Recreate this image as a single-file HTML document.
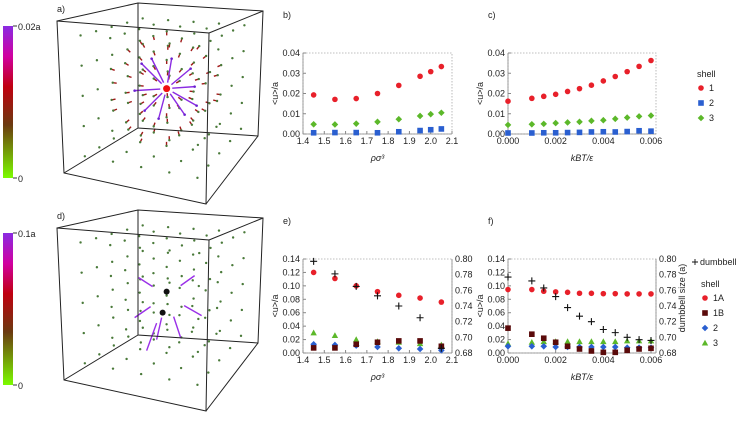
<!DOCTYPE html>
<html><head><meta charset="utf-8"><style>
body{margin:0;background:#fff;width:736px;height:417px;overflow:hidden}
svg text{font-family:"Liberation Sans",sans-serif;font-size:9px;fill:#222}
</style></head><body>
<svg id="fig" width="736" height="417" viewBox="0 0 736 417" xmlns="http://www.w3.org/2000/svg">
<defs>
<linearGradient id="cb" x1="0" y1="1" x2="0" y2="0">
<stop offset="0" stop-color="#7cfc00"/><stop offset="0.35" stop-color="#6b3a10"/><stop offset="0.6" stop-color="#c00010"/><stop offset="0.8" stop-color="#d000a0"/><stop offset="1" stop-color="#8a2be2"/></linearGradient>
</defs>
<g id="cubes"></g>
<g id="plots"></g>
</svg>
<script>
// ---------- data ----------
const bX=[1.45,1.55,1.65,1.75,1.85,1.95,2.0,2.05];
const bShell1=[0.0193,0.0171,0.0175,0.0200,0.0240,0.0285,0.0308,0.0333];
const bShell2=[0.0006,0.0007,0.0007,0.0006,0.0011,0.0017,0.0021,0.0025];
const bShell3=[0.0048,0.0047,0.0051,0.0060,0.0073,0.0089,0.0098,0.0105];
const cX=[0,0.001,0.0015,0.002,0.0025,0.003,0.0035,0.004,0.0045,0.005,0.0055,0.006];
const cShell1=[0.0162,0.0176,0.0186,0.0196,0.021,0.0224,0.0241,0.0262,0.0284,0.0308,0.0334,0.0363];
const cShell2=[0.0005,0.0005,0.0006,0.0006,0.0007,0.0008,0.001,0.0011,0.001,0.0012,0.0016,0.0014];
const cShell3=[0.0045,0.0048,0.005,0.0054,0.0057,0.006,0.0065,0.0068,0.0075,0.0081,0.0087,0.0091];
const eX=[1.45,1.55,1.65,1.75,1.85,1.95,2.05];
const e1A=[0.120,0.111,0.100,0.0914,0.0859,0.0818,0.0758];
const e1B=[0.0076,0.0076,0.013,0.016,0.018,0.018,0.010];
const e2=[0.013,0.012,0.011,0.009,0.007,0.006,0.004];
const e3=[0.030,0.026,0.020,0.017,0.016,0.014,0.012];
const eDumb=[0.797,0.781,0.765,0.753,0.740,0.725,0.686];
const fX=[0,0.001,0.0015,0.002,0.0025,0.003,0.0035,0.004,0.0045,0.005,0.0055,0.006];
const f1A=[0.0945,0.0945,0.092,0.091,0.0904,0.089,0.0889,0.0884,0.0884,0.088,0.088,0.088];
const f1B=[0.037,0.028,0.022,0.016,0.010,0.006,0.003,0.001,0.001,0.004,0.006,0.007];
const f2=[0.010,0.010,0.010,0.009,0.009,0.009,0.009,0.009,0.009,0.008,0.008,0.008];
const f3=[0.014,0.016,0.017,0.017,0.017,0.017,0.017,0.017,0.017,0.018,0.018,0.018];
const fDumb=[0.777,0.772,0.763,0.752,0.738,0.727,0.720,0.710,0.706,0.700,0.697,0.696];
const rhoTicks=["1.4","1.5","1.6","1.7","1.8","1.9","2.0","2.1"];
const tTicks=["0.000","0.002","0.004","0.006"];
const NS="http://www.w3.org/2000/svg";
function el(tag,attrs,parent,txt){const e=document.createElementNS(NS,tag);for(const k in attrs)e.setAttribute(k,attrs[k]);if(txt!==undefined)e.textContent=txt;parent.appendChild(e);return e;}
const plots=document.getElementById('plots');
const RED="#e8202a",BLUE="#2a5fd0",GREEN="#5cb82a",DARK="#5a0a0a";
function marker(g,type,x,y,c){
 let m;
 if(type==='c')m=el('circle',{cx:x,cy:y,r:2.8,fill:c},g);
 else if(type==='s')m=el('rect',{x:x-2.8,y:y-2.8,width:5.6,height:5.6,fill:c},g);
 else if(type==='d')m=el('polygon',{points:`${x},${y-3.3} ${x+3.3},${y} ${x},${y+3.3} ${x-3.3},${y}`,fill:c},g);
 else if(type==='t')m=el('polygon',{points:`${x},${y-3.3} ${x+3.2},${y+2.5} ${x-3.2},${y+2.5}`,fill:c},g);
 else if(type==='p')m=el('path',{d:`M${x-3.5},${y}H${x+3.5}M${x},${y-3.5}V${y+3.5}`,stroke:'#111','stroke-width':1.1},g);
 return m;
}
function panel(o){
 const g=el('g',{},plots);
 
 
 const sx=v=>o.px0+(v-o.x0)/(o.x1-o.x0)*(o.px1-o.px0);
 const sy=v=>o.py0-(v-o.y0)/(o.y1-o.y0)*(o.py0-o.py1);
 const fr=el('rect',{x:o.px0,y:o.py1,width:o.right-o.px0,height:o.py0-o.py1,fill:'none',stroke:'#aaa','stroke-width':0.8,'stroke-dasharray':'1.5,1.5'},g);
 
 el('line',{x1:o.px0,y1:o.py1,x2:o.px0,y2:o.py0,stroke:'#888','stroke-width':0.8},g);
 el('line',{x1:o.px0,y1:o.py0,x2:o.right,y2:o.py0,stroke:'#888','stroke-width':0.8},g);
 o.yTicks.forEach(t=>{const y=sy(+t);el('line',{x1:o.px0,y1:y,x2:o.px0+3,y2:y,stroke:'#888'},g);
  const tx=el('text',{x:o.px0-3,y:y+3,'text-anchor':'end'},g,t);});
 o.xTicks.forEach(t=>{const x=sx(+t);el('line',{x1:x,y1:o.py0,x2:x,y2:o.py0-3,stroke:'#888'},g);
  const tx=el('text',{x:x,y:o.py0+10,'text-anchor':'middle'},g,t);});
 if(o.rTicks){el('line',{x1:o.right,y1:o.py1,x2:o.right,y2:o.py0,stroke:'#888','stroke-width':0.8},g);
  o.rTicks.forEach(t=>{const y=o.py0-(+t-o.r0)/(o.r1-o.r0)*(o.py0-o.py1);
   const tx=el('text',{x:o.right+3,y:y+3},g,t);});}
 const xl=el('text',{x:(o.px0+o.right)/2,y:o.py0+27,'text-anchor':'middle','font-size':'10px','font-style':'italic'},g,o.xlabel);
 
 const yl=el('text',{x:0,y:0,transform:`translate(${o.px0-25},${(o.py0+o.py1)/2}) rotate(-90)`,'text-anchor':'middle'},g,'<u>/a');
 
 const pl=el('text',{x:o.px0-20,y:o.py1-35,'font-family':'Liberation Serif','font-size':'11px'},g,o.label);
 
 o.series.forEach(s=>{s.ys.forEach((v,i)=>{
  const y=s.right?o.py0-(v-o.r0)/(o.r1-o.r0)*(o.py0-o.py1):sy(v);
  const m=marker(g,s.type,sx(o.xs[i]),y,s.color);
  
  
 });});
 return g;
}
panel({name:'panel-b',label:'b)',xs:bX,x0:1.4,x1:2.1,px0:303,px1:452,right:452,y0:0,y1:0.04,py0:134,py1:53,
 yTicks:["0.00","0.01","0.02","0.03","0.04"],xTicks:rhoTicks,xlabel:'ρσ³',
 series:[{name:'shell1-point',type:'c',color:RED,ys:bShell1},{name:'shell2-point',type:'s',color:BLUE,ys:bShell2},{name:'shell3-point',type:'d',color:GREEN,ys:bShell3}]});
panel({name:'panel-c',label:'c)',xs:cX,x0:0,x1:0.006,px0:508,px1:651,right:656,y0:0,y1:0.04,py0:134,py1:53,
 yTicks:["0.00","0.01","0.02","0.03","0.04"],xTicks:tTicks,xlabel:'kBT/ε',
 series:[{name:'shell1-point',type:'c',color:RED,ys:cShell1},{name:'shell2-point',type:'s',color:BLUE,ys:cShell2},{name:'shell3-point',type:'d',color:GREEN,ys:cShell3}]});
panel({name:'panel-e',label:'e)',xs:eX,x0:1.4,x1:2.1,px0:303,px1:452,right:452,y0:0,y1:0.14,py0:353,py1:259,
 r0:0.68,r1:0.80,rTicks:["0.68","0.70","0.72","0.74","0.76","0.78","0.80"],
 yTicks:["0.00","0.02","0.04","0.06","0.08","0.10","0.12","0.14"],xTicks:rhoTicks,xlabel:'ρσ³',
 series:[{name:'shell3-point',type:'t',color:GREEN,ys:e3},{name:'shell2-point',type:'d',color:BLUE,ys:e2},{name:'shell1B-point',type:'s',color:DARK,ys:e1B},{name:'shell1A-point',type:'c',color:RED,ys:e1A},{name:'dumbbell-point',type:'p',right:true,ys:eDumb}]});
panel({name:'panel-f',label:'f)',xs:fX,x0:0,x1:0.006,px0:508,px1:651,right:656,y0:0,y1:0.14,py0:353,py1:259,
 r0:0.68,r1:0.80,rTicks:["0.68","0.70","0.72","0.74","0.76","0.78","0.80"],
 yTicks:["0.00","0.02","0.04","0.06","0.08","0.10","0.12","0.14"],xTicks:tTicks,xlabel:'kBT/ε',
 series:[{name:'shell3-point',type:'t',color:GREEN,ys:f3},{name:'shell2-point',type:'d',color:BLUE,ys:f2},{name:'shell1B-point',type:'s',color:DARK,ys:f1B},{name:'shell1A-point',type:'c',color:RED,ys:f1A},{name:'dumbbell-point',type:'p',right:true,ys:fDumb}]});
const rt=el('text',{x:0,y:0,transform:'translate(685,298) rotate(-90)','text-anchor':'middle'},plots,'dumbbell size (a)');


function legend(x,y,items,name){const g=el('g',{},plots);
 
 
 el('text',{x:x,y:y},g,'shell');
 items.forEach((it,i)=>{const yy=y+11+i*15;marker(g,it[0],x+4,yy,it[1]);el('text',{x:x+12,y:yy+3},g,it[2]);});}
legend(697,77,[['c',RED,'1'],['s',BLUE,'2'],['d',GREEN,'3']],'legend-c');
legend(701,287,[['c',RED,'1A'],['s',DARK,'1B'],['d',BLUE,'2'],['t',GREEN,'3']],'legend-f');
const dl=el('g',{},plots);


el('path',{d:'M692,262H698M695,259V265',stroke:'#111','stroke-width':0.9},dl);
el('text',{x:700,y:265,'font-size':'8px'},dl,'dumbbell');

// ---------- cubes ----------
const cubes=document.getElementById('cubes');
function cube(dy,label,cbLabel,mode){
 const g=el('g',{transform:`translate(0,${dy})`},cubes);
 
 
 const C={F:[[57,21],[209,33],[206,204],[64,173]],B:[[138,3],[263,11],[258,136],[138,128]]};
 const cb=el('rect',{x:3,y:26,width:10,height:152,fill:'url(#cb)'},g);
 
 el('line',{x1:13,y1:26,x2:17,y2:26,stroke:'#333'},g);el('line',{x1:13,y1:178,x2:17,y2:178,stroke:'#333'},g);
 el('text',{x:18,y:30,'font-size':'11px'},g,cbLabel);el('text',{x:18,y:182,'font-size':'11px'},g,'0');
 el('text',{x:57,y:12,'font-family':'Liberation Serif','font-size':'11px'},g,label);
 function P(u,v,w){
  const lerp=(a,b,t)=>[a[0]+(b[0]-a[0])*t,a[1]+(b[1]-a[1])*t];
  const f=lerp(lerp(C.F[0],C.F[1],u),lerp(C.F[3],C.F[2],u),v);
  const b=lerp(lerp(C.B[0],C.B[1],u),lerp(C.B[3],C.B[2],u),v);
  return lerp(f,b,w);}
 const cx=P(0.5,0.5,0.5);
 for(let i=0;i<5;i++)for(let j=0;j<5;j++)for(let k=0;k<5;k++){
  const p=P((i+0.5)/5,(j+0.5)/5,(k+0.5)/5);
  const dx=cx[0]-p[0],dyy=cx[1]-p[1];const d=Math.hypot(dx,dyy)||1;
  if(mode==='a'&&d<60&&d>8){el('line',{x1:p[0],y1:p[1],x2:p[0]+dx/d*4,y2:p[1]+dyy/d*4,stroke:'#a01818','stroke-width':1.4},g);}
  el('circle',{cx:p[0],cy:p[1],r:1.2,fill:'#4a7a3a'},g);
 }
 if(mode==='a'){
  const ends=[[-25,-25],[-15,-30],[5,-30],[24,-20],[-32,2],[28,-2],[-22,22],[-8,30],[18,26],[30,17]];
  ends.forEach(e=>{el('line',{x1:cx[0]+e[0],y1:cx[1]+e[1],x2:cx[0]+e[0]*0.2,y2:cx[1]+e[1]*0.2,stroke:'#8a2be2','stroke-width':1.4},g);
   el('circle',{cx:cx[0]+e[0],cy:cx[1]+e[1],r:1.3,fill:'#6a20d0'},g);});
  el('circle',{cx:cx[0],cy:cx[1],r:3.5,fill:'#f01010'},g);
 } else {
  const ends2=[[-28,-18],[28,-20],[-32,22],[35,20],[-10,44],[14,42],[-20,55]];
  ends2.forEach(e=>{el('line',{x1:cx[0]+e[0]*0.5,y1:cx[1]+e[1]*0.5,x2:cx[0]+e[0],y2:cx[1]+e[1],stroke:'#9a30e8','stroke-width':1.4},g);});
  el('circle',{cx:cx[0],cy:cx[1]-4,r:3,fill:'#111'},g);el('circle',{cx:cx[0]-4,cy:cx[1]+17,r:3,fill:'#111'},g);
 }
 const F=C.F,B=C.B,s={stroke:'#222','stroke-width':1,fill:'none'};
 el('polygon',Object.assign({points:F.map(p=>p.join(',')).join(' ')},s),g);
 el('polygon',Object.assign({points:B.map(p=>p.join(',')).join(' ')},s),g);
 for(let i=0;i<4;i++)el('line',Object.assign({x1:F[i][0],y1:F[i][1],x2:B[i][0],y2:B[i][1]},s),g);
}
cube(0,'a)','0.02a','a');
cube(207,'d)','0.1a','d');
</script>
</body></html>
